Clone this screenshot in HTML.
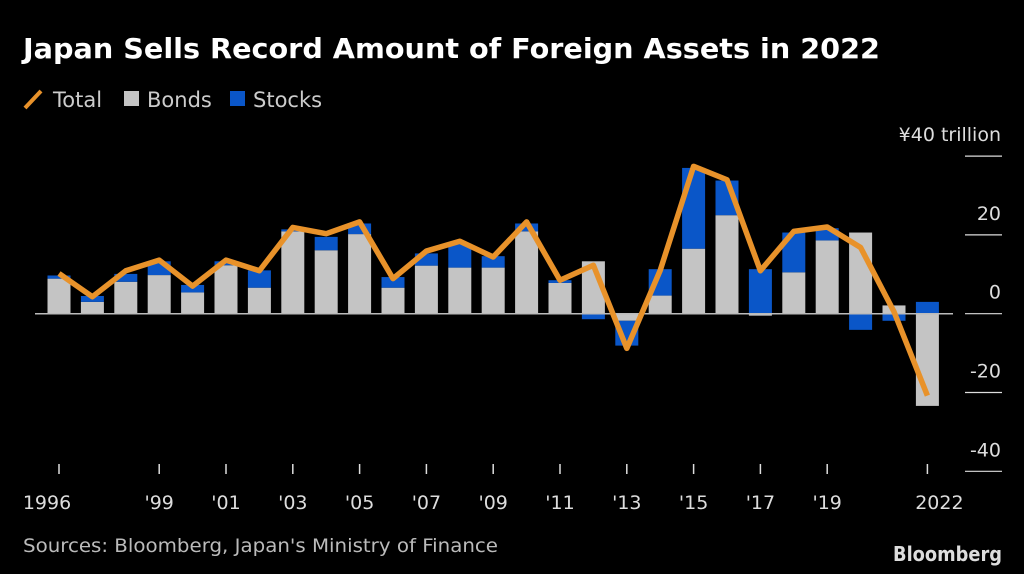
<!DOCTYPE html>
<html><head><meta charset="utf-8"><style>
html,body{margin:0;padding:0;background:#000;}
svg{display:block;}
text{font-family:"DejaVu Sans","Liberation Sans",sans-serif;}
</style></head><body>
<svg id="chart" width="1024" height="574" viewBox="0 0 1024 574" xmlns="http://www.w3.org/2000/svg">
<rect width="1024" height="574" fill="#000"/>
<text x="23" y="58" fill="#fff" font-size="28" font-weight="bold" textLength="857" lengthAdjust="spacingAndGlyphs">Japan Sells Record Amount of Foreign Assets in 2022</text>
<g>
<line x1="25" y1="108" x2="41" y2="91" stroke="#e8922a" stroke-width="4"/>
<text x="53" y="107" fill="#ccc" font-size="21">Total</text>
<rect x="124" y="91" width="15" height="15" fill="#c4c4c4"/>
<text x="147" y="107" fill="#ccc" font-size="21">Bonds</text>
<rect x="230" y="91" width="15" height="15" fill="#0a56c8"/>
<text x="253" y="107" fill="#ccc" font-size="21">Stocks</text>
</g>
<g id="grid"></g><g id="bars"></g><g id="line"></g><g id="xaxis"></g>
<text x="23" y="552" fill="#bbb" font-size="19" textLength="475" lengthAdjust="spacingAndGlyphs">Sources: Bloomberg, Japan's Ministry of Finance</text>
<text x="893" y="561" fill="#ddd" font-size="20" font-weight="bold" textLength="109" lengthAdjust="spacingAndGlyphs">Bloomberg</text>
</svg>
<script>
const years = [1996,1997,1998,1999,2000,2001,2002,2003,2004,2005,2006,2007,2008,2009,2010,2011,2012,2013,2014,2015,2016,2017,2018,2019,2020,2021,2022];
const bonds = [8.9,3.0,8.1,9.8,5.4,12.3,6.6,20.9,16.1,20.2,6.6,12.2,11.7,11.7,20.9,7.8,13.3,-1.8,4.6,16.5,25,-0.5,10.5,18.6,20.6,2.1,-23.4];
const stocks = [0.8,1.5,2.0,3.5,1.9,1.0,4.4,0.5,3.4,2.7,2.7,3.1,6.1,2.9,2.0,0.7,-1.4,-6.3,6.7,20.5,8.8,11.3,10.1,3.1,-4.1,-1.8,3.0];
const totals = [10.2,4.3,10.9,13.6,7.0,13.6,10.9,21.9,20.3,23.3,8.9,15.9,18.4,14.4,23.3,8.5,12.3,-8.8,11,37.4,34,10.9,20.9,22.0,16.8,0.5,-20.8];
const yTicks = [40,20,0,-20,-40];
const yTickLabels = ["¥40 trillion","20","0","-20","-40"];
const xTickYears = [1996,1999,2001,2003,2005,2007,2009,2011,2013,2015,2017,2019,2022];
const xTickLabels = ["1996","'99","'01","'03","'05","'07","'09","'11","'13","'15","'17","'19","2022"];

const NS="http://www.w3.org/2000/svg";
const x = yr => 59 + (yr-1996)*33.4;
const y = v => 313.7 - v*3.94;
const bw = 23;
function mk(tag, attrs, parent){const e=document.createElementNS(NS,tag);for(const k in attrs)e.setAttribute(k,attrs[k]);parent.appendChild(e);return e;}
const grid=document.getElementById('grid'), bars=document.getElementById('bars'), lineG=document.getElementById('line'), xa=document.getElementById('xaxis');

yTicks.forEach((t,i)=>{
  const l=mk('line',{x1:965,x2:1002,y1:y(t),y2:y(t),stroke:'#ddd','stroke-width':1.2},grid);
  
  
  const tx=mk('text',{x:1001,y:y(t)-15,fill:'#ddd','font-size':19,'text-anchor':'end'},grid);
  tx.textContent=yTickLabels[i];
  
  
});

years.forEach((yr,i)=>{
  let pos=0,neg=0;
  [[bonds[i],'#c4c4c4','bar-bonds'],[stocks[i],'#0a56c8','bar-stocks']].forEach(([v,c,n])=>{
    let y0,y1;
    if(v>=0){y0=pos;y1=pos+v;pos=y1;}else{y0=neg;y1=neg+v;neg=y1;}
    const r=mk('rect',{x:x(yr)-bw/2,y:Math.min(y(y0),y(y1)),width:bw,height:Math.abs(y(y1)-y(y0)),fill:c},bars);
    
    
  });
});
const zl=mk('line',{x1:35,x2:953,y1:y(0),y2:y(0),stroke:'#bbb','stroke-width':1.5},bars);



const pl=mk('polyline',{points:years.map((yr,i)=>x(yr)+','+y(totals[i])).join(' '),fill:'none',stroke:'#e8922a','stroke-width':5.5,'stroke-linejoin':'round'},lineG);



xTickYears.forEach((yr,i)=>{
  const t=mk('line',{x1:x(yr),x2:x(yr),y1:464,y2:474,stroke:'#ddd','stroke-width':1.5},xa);
  
  
  const tx=mk('text',{x:x(yr)-(i===0?12:(i===xTickYears.length-1?-12:0)),y:509,fill:'#ddd','font-size':19,'text-anchor':'middle'},xa);
  tx.textContent=xTickLabels[i];
  
  
});
</script>
</body></html>
